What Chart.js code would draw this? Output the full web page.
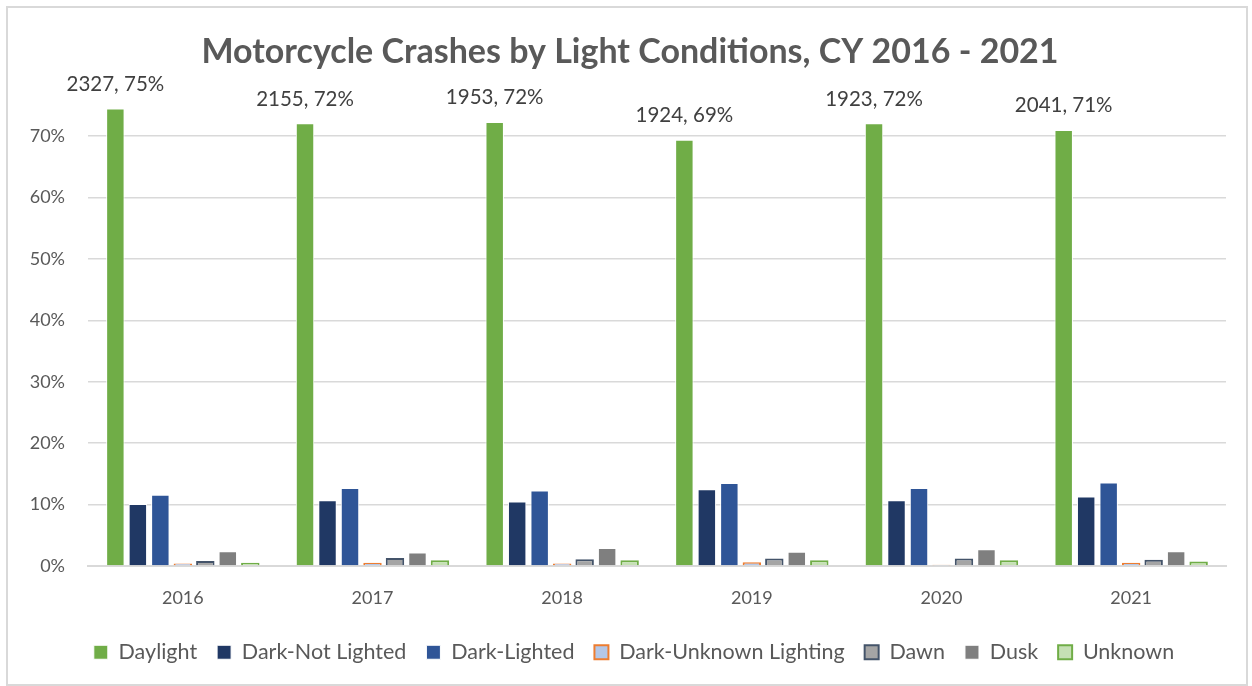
<!DOCTYPE html>
<html>
<head>
<meta charset="utf-8">
<script src="https://cdn.jsdelivr.net/npm/chart.js@4/dist/chart.umd.min.js"></script>
<style>
    html, body { margin: 0; padding: 0; background: #fff; }
    .chart { position: relative; width: 1252px; height: 686px; }
    .frame { position: absolute; left: 6px; top: 6px; width: 1238px; height: 676px; border: 2px solid #d9d9d9; pointer-events: none; }
</style>
</head>
<body>
<div class="chart"><canvas id="chart"></canvas><div class="frame"></div></div>
<script>
const years = ['2016', '2017', '2018', '2019', '2020', '2021'];

const daylight = [74.5, 72.1, 72.3, 69.4, 72.1, 71.0];
const darkNotLighted = [10.1, 10.7, 10.5, 12.5, 10.7, 11.3];
const darkLighted = [11.6, 12.7, 12.3, 13.5, 12.7, 13.6];
const darkUnknown = [0.4, 0.5, 0.4, 0.6, 0.2, 0.5];
const dawn = [0.8, 1.3, 1.1, 1.2, 1.2, 1.0];
const dusk = [2.4, 2.2, 2.9, 2.3, 2.7, 2.4];
const unknown = [0.5, 0.9, 0.9, 0.9, 0.9, 0.7];

const daylightCounts = [2327, 2155, 1953, 1924, 1923, 2041];
const daylightPct = ['75%', '72%', '72%', '69%', '72%', '71%'];

const titleText = 'Motorcycle Crashes by Light Conditions, CY 2016 - 2021';

const fontFamily = 'Lato, "Open Sans", sans-serif';
const textColor = '#595959';

// title drawn by hand so it can sit a little right of the plot centre, like the original
const chartTitle = {
    id: 'chartTitle',
    afterDraw(chart) {
        const ctx = chart.ctx;
        ctx.save();
        ctx.font = 'bold 34px ' + fontFamily;
        ctx.fillStyle = textColor;
        ctx.textAlign = 'center';
        ctx.textBaseline = 'middle';
        ctx.fillText(titleText, chart.width / 2 + 4, 52);
        ctx.restore();
    }
};

// labels above the Daylight bars
const daylightLabels = {
    id: 'daylightLabels',
    afterDatasetsDraw(chart) {
        const ctx = chart.ctx;
        const meta = chart.getDatasetMeta(0);
        ctx.save();
        ctx.font = '20.5px ' + fontFamily;
        ctx.fillStyle = '#404040';
        ctx.textAlign = 'center';
        ctx.textBaseline = 'bottom';
        meta.data.forEach((bar, i) => {
            ctx.fillText(daylightCounts[i] + ', ' + daylightPct[i], bar.x, bar.y - 14);
        });
        ctx.restore();
    }
};

const bar = (label, data, fill, border, borderWidth) => ({
    label,
    data,
    backgroundColor: fill,
    borderColor: border,
    borderWidth,
    categoryPercentage: 0.83,
    barPercentage: 0.82
});

new Chart(document.getElementById('chart').getContext('2d'), {
    type: 'bar',
    data: {
        labels: years,
        datasets: [
            bar('Daylight', daylight, '#70ad47', '#ffffff', 1),
            bar('Dark-Not Lighted', darkNotLighted, '#203864', '#ffffff', 1),
            bar('Dark-Lighted', darkLighted, '#2f5597', '#ffffff', 1),
            bar('Dark-Unknown Lighting', darkUnknown, '#b4c7e7', '#ed7d31', 2),
            bar('Dawn', dawn, '#a5a5a5', '#44546a', 2),
            bar('Dusk', dusk, '#7f7f7f', '#ffffff', 1),
            bar('Unknown', unknown, '#c5e0b4', '#70ad47', 2)
        ]
    },
    options: {
        responsive: true,
        maintainAspectRatio: false,
        animation: false,
        layout: { padding: { left: 42, right: 26, top: 87, bottom: 13 } },
        scales: {
            x: {
                grid: { display: false },
                border: { color: '#d9d9d9', width: 2 },
                ticks: { color: textColor, font: { family: fontFamily, size: 18 }, padding: 13 }
            },
            y: {
                min: 0,
                max: 78,
                afterBuildTicks: axis => {
                    axis.ticks = axis.ticks.filter(t => t.value % 10 === 0);
                },
                // narrow axis box; tick labels hang out to the left of it
                afterFit: axis => {
                    axis.width = 46;
                    axis._computeLabelArea = () => undefined;
                },
                ticks: {
                    stepSize: 10,
                    color: textColor,
                    font: { family: fontFamily, size: 18 },
                    padding: 23,
                    callback: v => v + '%'
                },
                grid: { color: '#d9d9d9', lineWidth: 1.5, drawTicks: false },
                border: { display: false }
            }
        },
        plugins: {
            title: { display: false },
            legend: {
                position: 'bottom',
                labels: {
                    color: textColor,
                    font: { family: fontFamily, size: 21.5 },
                    boxWidth: 14,
                    boxHeight: 14,
                    padding: 20
                }
            },
            tooltip: { enabled: false }
        }
    },
    plugins: [daylightLabels, chartTitle]
});
</script>
</body>
</html>
